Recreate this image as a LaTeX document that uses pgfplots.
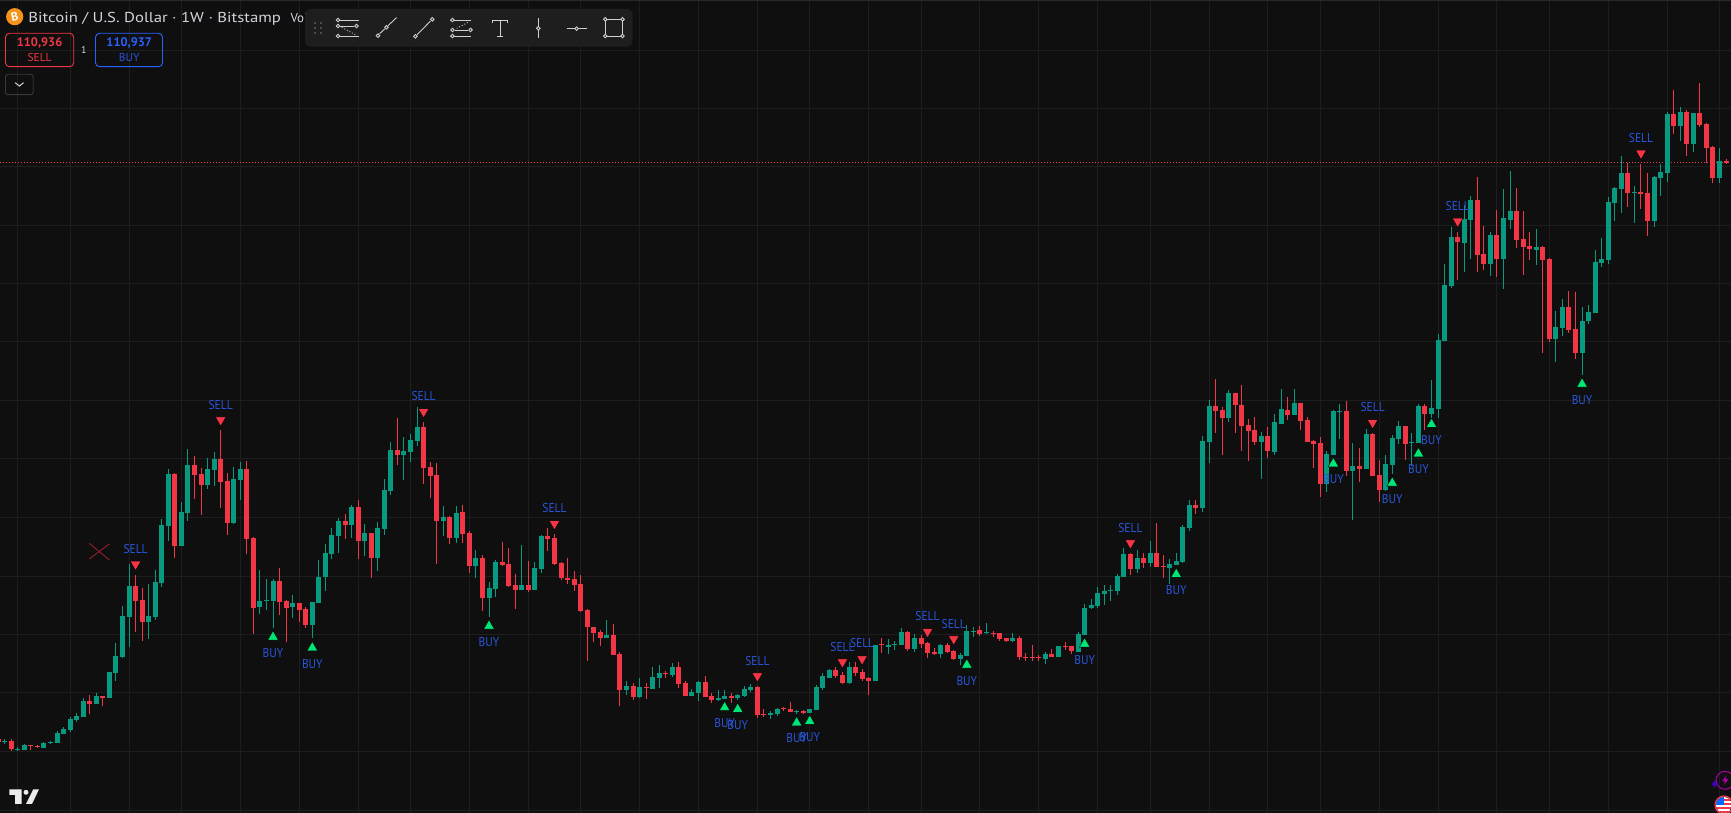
\documentclass[border=0pt]{standalone}
\usepackage{fontspec}
\setmainfont{PT Sans}
\usepackage{pgfplots}
\usepackage{pgfplotstable}
\pgfplotsset{compat=1.18}
\definecolor{bg}{HTML}{0F0F0F}
\definecolor{gridc}{HTML}{1E1E1E}
\definecolor{upc}{HTML}{089981}
\definecolor{dnc}{HTML}{F23645}
\definecolor{buyc}{HTML}{00E676}
\definecolor{lblc}{HTML}{2A56DC}
\definecolor{btnb}{HTML}{2962FF}
\definecolor{txtc}{HTML}{D1D4DC}
\definecolor{barc}{HTML}{1E1E1E}
\definecolor{iconc}{HTML}{D0D0D0}
\definecolor{coinc}{HTML}{F7931A}

% candles: week number, then wick top, body top, body bottom, wick bottom (rows of the picture)
\pgfplotstableread{
i hi top bot lo
0 739.3 741 742 744
2 746.7 749 750 751.3
3 744 745.3 750 750
6 742.3 743.3 747.7 748
7 740.7 741.7 743 743.7
8 731 733.3 743 743
9 727.3 729.3 734 734
10 716.7 719.3 730 732
11 713.3 716 720 721.7
12 698 701.3 717 717
14 692.7 696 704 704.3
16 672 672 698 698
17 643 656 673 681
18 606.3 616 657.3 658.3
19 564 586 617 647
22 584 616 622 639
23 570 582 617 620
24 519 525 583 587
25 469 474 526 541.3
27 502 512 546 546
28 449 465 513 521
31 458 469 485 489
32 452 459 470 486
35 467 479 523 524
36 462 469 480 500
39 570 601 607 614
40 579 600 601 610
41 579 581 601 628
44 595 603 607 618
47 602 602 625 638
48 560 577 603 603
49 544 553 577 591
50 528 535 554 559
51 518 521 536 553
53 505 507 525 538
55 524 533 541 556
57 522 528 558 571
58 479 490 529 535
59 442 450 491 495
61 437 451 455 480
62 434 440 452 462
63 407 427 441 446
67 506 517 521 536
69 506 513 538 543
72 550 558 566 578
74 582 588 598 617
75 560 562 589 597
79 545 585 590 590
81 562 568 590 590
82 535 536 569 573
92 620 635 638 638
95 681 686 690 695
97 678 687 697 698
99 667 677 689 689
100 665 673 678 688
102 663 667 675 677
105 689 692 696 696
106 681 682 693 701
109 690 698 700 701
110 690 696 699 699
112 694 695 698 700
113 686 689 696 697
114 684 687 690 692
117 711 713 715 719
118 708 709 714 716
121 710 711 712 714
123 709 709 713 713
124 685 687 710 710
125 673 676 688 690
126 669 670 678 678
129 662 667 683 684
133 645 645 681 681
135 639 645 647 654
136 641 644 645 650
137 628 632 645 645
139 634 638 649 652
143 644 645 654 658
146 653 655 659 665
147 625 631 656 656
148 627 631 632 637
150 623 632 633 634
154 633 638 641 642
159 652 654 659 664
161 646 646 657 657
164 632 634 652 652
165 604 608 635 635
166 599 605 608 609
167 587 593 606 608
168 585 591 594 605
169 585 590 591 601
170 574 576 591 595
171 548 554 577 577
173 550 558 569 573
175 541 553 563 567
178 559 564 568 584
179 553 561 565 565
180 525 527 562 563
181 500 505 528 531
183 436 441 508 512
184 400 406 442 463
187 390 393 418 422
192 432 436 442 479
194 414 422 452 455
195 389 409 424 424
197 389 403 415 415
202 451 454 484 492
203 410 411 455 455
204 404 411 412 439
206 443 466 471 520
208 429 434 469 469
211 455 464 490 491
212 435 438 465 474
213 421 426 439 444
215 433 442 443 466
216 404 406 443 443
218 380 408 414 419
219 334 340 409 418
220 264 285 341 341
221 227 237 286 288
223 205 219 243 272
224 196 200 220 259
227 232 235 264 276
229 189 218 259 289
230 171 211 220 229
234 229 247 250 265
237 311 327 339 362
238 299 307 328 336
241 307 321 353 375
242 305 312 321 324
243 250 262 313 313
244 238 259 263 267
245 197 202 260 264
246 187 188 203 221
247 156 173 189 213
249 186 192 193 223
252 176 177 221 227
253 164 172 178 196
254 112 114 173 182
256 107 112 126 141
258 113 113 144 152
262 148 161 178 183
}\upcandles

\pgfplotstableread{
i hi top bot lo
-1 739.3 739.3 742 742
1 739.3 741 749.3 750.7
4 745.3 745.3 746.3 750
5 744.7 746 747 748
13 695 701.3 704 714
15 696 696 698 706
20 575 586 601 632
21 588 600 622 641
26 473 474 546 558
29 456 465 475 499
30 468 474 485 515
33 430 459 482 508
34 473 481 523 535
37 461 469 539 554
38 537 538 608 634
42 568 581 602 615
43 600 601 608 642
45 603 603 610 622
46 607 609 625 628
52 514 521 525 539
54 500 507 541 559
56 533 533 558 578
60 418 450 455 465
64 422 427 468 484
65 462 467 476 498
66 463 475 521 564
68 516 517 538 544
70 505 512 534 543
71 531 533 566 573
73 555 558 598 611
76 542 562 565 566
77 548 564 586 587
78 574 585 590 609
80 561 585 590 592
83 528 536 539 551
84 534 538 564 565
85 562 563 578 580
86 558 578 580 584
87 571 579 585 591
88 575 584 611 612
89 609 610 627 661
90 627 627 633 642
91 630 632 638 646
93 624 635 655 655
94 652 654 690 706
96 683 686 697 700
98 683 687 688 699
101 671 673 674 678
103 662 667 684 688
104 681 683 696 696
107 676 682 697 697
108 693 696 700 703
111 693 696 698 703
115 686 687 715 718
116 709 714 715 717
119 706.7 708.3 709.3 711
120 702 709 712 712
122 710 711 713 714
127 667 670 676 678
128 672 675 683 684
130 662 667 673 676
131 669 672 679 681
132 677 678 681 695
134 638 644 645 653
138 631 632 649 651
140 635 638 644 648
141 642 643 653 658
142 648 652 654 655
144 643 645 652 653
145 650 651 659 660
149 626 630 634 636
151 631 633 634 637
152 633 633 639 641
153 638 638 641 642
155 636 638 657 660
156 653 657 658 661
157 645 657 658 661
158 655 657 658 661
160 649 654 657 657
162 642 646 647 650
163 646 646 651 654
172 553 554 569 575
174 553 558 563 568
176 523 553 567 567
177 555 566 567 578
182 500 505 508 514
185 379 406 411 433
186 407 410 418 455
188 393 393 405 433
189 385 405 426 451
190 419 425 431 461
191 417 430 442 445
193 427 436 451 458
196 397 410 415 420
198 403 403 421 430
199 417 420 442 442
200 440 441 444 468
201 437 443 484 497
205 401 411 471 476
207 448 466 469 482
209 433 434 476 476
210 460 475 490 502
214 426 426 444 460
217 404 406 414 430
222 232 237 242 280
225 177 200 255 272
226 226 254 264 270
228 210 235 259 277
231 188 211 240 248
232 211 239 247 275
233 232 246 249 260
235 246 247 260 353
236 258 259 339 342
239 291 307 330 333
240 292 329 353 359
248 163 173 193 207
250 164 192 194 209
251 173 193 221 236
255 90 114 126 134
257 110 112 144 156
259 83 113 125 127
260 123 124 148 163
261 146 147 178 183
263 159 161 163 164
}\dncandles

% signals: week, triangle row, label row
\pgfplotstableread{
i tri lab
20 564.3 548.7
33 420 404.7
64 411.7 395.7
84 523.7 507.7
115 676 660.7
128 662 646.7
131 659 643.3
141 631.7 615.7
145 639 623.7
172 543 527.7
209 422.7 406.7
222 221.3 205.7
250 153.3 138
}\sells

\pgfplotstableread{
i tri lab
41 637 652.7
47 647.7 663.7
74 626 641.7
110 707.5 723.5
112 709.3 725
121 722.7 738
123 721.3 737
147 665 680.7
165 644 659.7
179 574.3 590
203 463.7 479.3
212 483 498.7
216 453.7 469.3
218 424.3 440
241 384 400
}\buys

\begin{document}
\begin{tikzpicture}[x=1bp,y=1bp]
\path[use as bounding box] (0,0) rectangle (1731,813);
\begin{axis}[
  at={(0,0)},anchor=south west,
  scale only axis,width=1731bp,height=813bp,
  xmin=-0.7135,xmax=263.76,ymin=0,ymax=813,
  y dir=reverse,
  axis line style={draw=none},
  major tick length=0pt,
  xticklabels={},yticklabels={},
  xtick={2,10,19,27,36,45,54,62,71,80,88,97,106,115,123,132,140,149,158,167,175,184,193,201,210,219,228,236,245,254,262},
  ytick={51,109,167,226,284,342,401,459,517,576,634,692,751,810},
  grid=major,grid style={color=gridc,line width=1bp},
  axis background/.style={fill=bg},
  cycle list={{black}},
  every axis plot post/.append style={mark=none},
]
% last price
\addplot[dnc,line width=1bp,dash pattern=on 1bp off 2bp] coordinates {(-0.7135,162.3)(263.76,162.3)};
% labels sit under the candles
\addplot[draw=none,nodes near coords={SELL},
  nodes near coords style={anchor=center,text=lblc,font=\fontsize{12.8}{13}\selectfont,inner sep=0pt,xscale=0.9,transform shape}]
  table[x=i,y=lab] {\sells};
\addplot[draw=none,nodes near coords={BUY},
  nodes near coords style={anchor=center,text=lblc,font=\fontsize{12.8}{13}\selectfont,inner sep=0pt,xscale=0.9,transform shape}]
  table[x=i,y=lab] {\buys};
% triangles
\addplot[only marks,mark=triangle*,mark size=6.2pt,mark options={draw=none,fill=dnc,rotate=180},every axis plot post/.style={}]
  table[x=i,y=tri] {\sells};
\addplot[only marks,mark=triangle*,mark size=6.2pt,mark options={draw=none,fill=buyc},every axis plot post/.style={}]
  table[x=i,y=tri] {\buys};
% wicks
\addplot[draw=none,error bars/.cd,y dir=plus,y explicit,error mark=none,
  error bar style={line width=1bp,draw=upc}]
  table[x=i,y=hi,y error plus expr=\thisrow{lo}-\thisrow{hi},y error minus expr=0] {\upcandles};
\addplot[draw=none,error bars/.cd,y dir=plus,y explicit,error mark=none,
  error bar style={line width=1bp,draw=dnc}]
  table[x=i,y=hi,y error plus expr=\thisrow{lo}-\thisrow{hi},y error minus expr=0] {\dncandles};
% bodies
\addplot[draw=none,error bars/.cd,y dir=plus,y explicit,error mark=none,
  error bar style={line width=5bp,draw=upc}]
  table[x=i,y=top,y error plus expr=\thisrow{bot}-\thisrow{top},y error minus expr=0] {\upcandles};
\addplot[draw=none,error bars/.cd,y dir=plus,y explicit,error mark=none,
  error bar style={line width=5bp,draw=dnc}]
  table[x=i,y=top,y error plus expr=\thisrow{bot}-\thisrow{top},y error minus expr=0] {\dncandles};
% drawn cross
\addplot[dnc!65!black,line width=0.8bp] coordinates {(12.93,543.3)(15.99,560)};
\addplot[dnc!65!black,line width=0.8bp] coordinates {(12.93,559)(15.99,544)};
\end{axis}

\begin{scope}[shift={(0,813)},y=-1bp,x=1bp]
\draw[color=white!16!black,line width=1bp] (0,0.5) -- (1731,0.5);
% header
\node[anchor=base west,text=txtc,inner sep=0,font=\fontsize{13}{14}\selectfont] at (290.4,22.7) {Vol};
\fill[coinc] (14.7,16.7) circle (8.6);
\node[white,rotate=12,font=\bfseries\fontsize{12}{12}\selectfont,inner sep=0] at (14.7,16.7) {B};
\node[anchor=base west,text=txtc,inner sep=0,font=\fontsize{14.4}{15}\selectfont,xscale=1.165,transform shape] at (28.2,22.7) {Bitcoin / U.S. Dollar · 1W · Bitstamp};
% order buttons
\draw[dnc,line width=0.9bp,rounded corners=4bp] (5.5,33.3) rectangle (73.7,66.7);
\node[text=dnc,inner sep=0,font=\bfseries\fontsize{12.5}{13}\selectfont] at (39.6,43) {110,936};
\node[text=dnc,inner sep=0,font=\fontsize{11.5}{12}\selectfont] at (39.6,57.3) {SELL};
\node[text=txtc,inner sep=0,font=\fontsize{10}{10}\selectfont] at (83.8,50) {1};
\draw[btnb,line width=0.9bp,rounded corners=4bp] (95.5,33.3) rectangle (162.5,66.7);
\node[text=btnb,inner sep=0,font=\bfseries\fontsize{12.5}{13}\selectfont] at (129.2,43) {110,937};
\node[text=lblc,inner sep=0,font=\fontsize{11.5}{12}\selectfont] at (129.2,57.3) {BUY};
\draw[white!22!black,line width=0.9bp,rounded corners=2.5bp] (5.5,74.3) rectangle (33.2,94.7);
\draw[txtc,line width=1bp] (15.2,82.7) -- (19.4,86) -- (23.6,82.7);
% drawing toolbar
\fill[barc,rounded corners=6bp] (305,9) rectangle (632.6,46.7);
\foreach \px in {314.8,320.7} \foreach \py in {23.3,28.3,33.3}
  \fill[white!30!black] (\px-0.9,\py-0.9) rectangle (\px+0.9,\py+0.9);
\begin{scope}[x=0.4209bp,y=-0.3333bp,iconc,line width=0.9bp]
  \draw (800,60) -- (852,60) (808,78) -- (842,78) (800,108) -- (852,108);
  \draw[dotted] (812,82) -- (845,105);
  \foreach \cx/\cy in {803/60,803/78,847/78,803/108} \draw[fill=barc] (\cx,\cy) circle (1.8bp);
  \draw (902,101) -- (914,87) (922,77) -- (942,53);
  \draw (898,107) circle (1.8bp) (918,82) circle (1.8bp);
  \draw (991,104) -- (1023,63);
  \draw (987,109) circle (1.8bp) (1027,58) circle (1.8bp);
  \draw (1070,60) -- (1120,60) (1080,90) -- (1113,90) (1070,108) -- (1120,108);
  \draw[dotted] (1085,85) -- (1115,65);
  \foreach \cx/\cy in {1075/60,1075/90,1118/90,1075/108} \draw[fill=barc] (\cx,\cy) circle (1.8bp);
  \draw (1171,68) -- (1171,60) -- (1206,60) -- (1206,68) (1188,60) -- (1188,108) (1181,108) -- (1195,108);
  \draw (1279,55) -- (1279,80) (1279,90) -- (1279,115);
  \draw (1279,85) circle (1.8bp);
  \draw (1346,86) -- (1365,86) (1375,86) -- (1394,86);
  \draw (1370,86) circle (1.8bp);
  \draw (1438,58) rectangle (1479,108);
  \foreach \cx/\cy in {1438/58,1479/58,1438/108,1479/108} \draw[fill=barc] (\cx,\cy) circle (1.8bp);
\end{scope}
% logo
\fill[white!92!black] (9.3,789.3) -- (21.7,789.3) -- (21.7,804) -- (15,804) -- (15,795) -- (9.3,795) -- cycle;
\fill[white!92!black] (26,792.3) circle (2.5);
\fill[white!92!black] (33.3,789.3) -- (39,789.3) -- (32,804) -- (26,804) -- cycle;
% bottom right badges
\draw[violet!70!magenta,line width=1bp] (1725,780.3) circle (9);
\fill[violet!70!magenta] (1726.5,775) -- (1722,781.5) -- (1725,781.5) -- (1723.5,785.5) -- (1728.5,779) -- (1725.5,779) -- cycle;
\fill[blue!50!violet] (1714.7,780) -- (1716,782.7) -- (1718.7,784) -- (1716,785.3) -- (1714.7,788) -- (1713.4,785.3) -- (1710.7,784) -- (1713.4,782.7) -- cycle;
\begin{scope}
  \clip (1724,805) circle (8);
  \fill[white] (1715,796) rectangle (1733,814);
  \foreach \sy in {799,803,807,811} \fill[dnc] (1715,\sy) rectangle (1733,\sy+2);
  \fill[blue!60!cyan] (1715,796) rectangle (1724,805);
\end{scope}
\draw[dnc,line width=1.2bp] (1724,805) circle (9);
\end{scope}
\end{tikzpicture}
\end{document}
